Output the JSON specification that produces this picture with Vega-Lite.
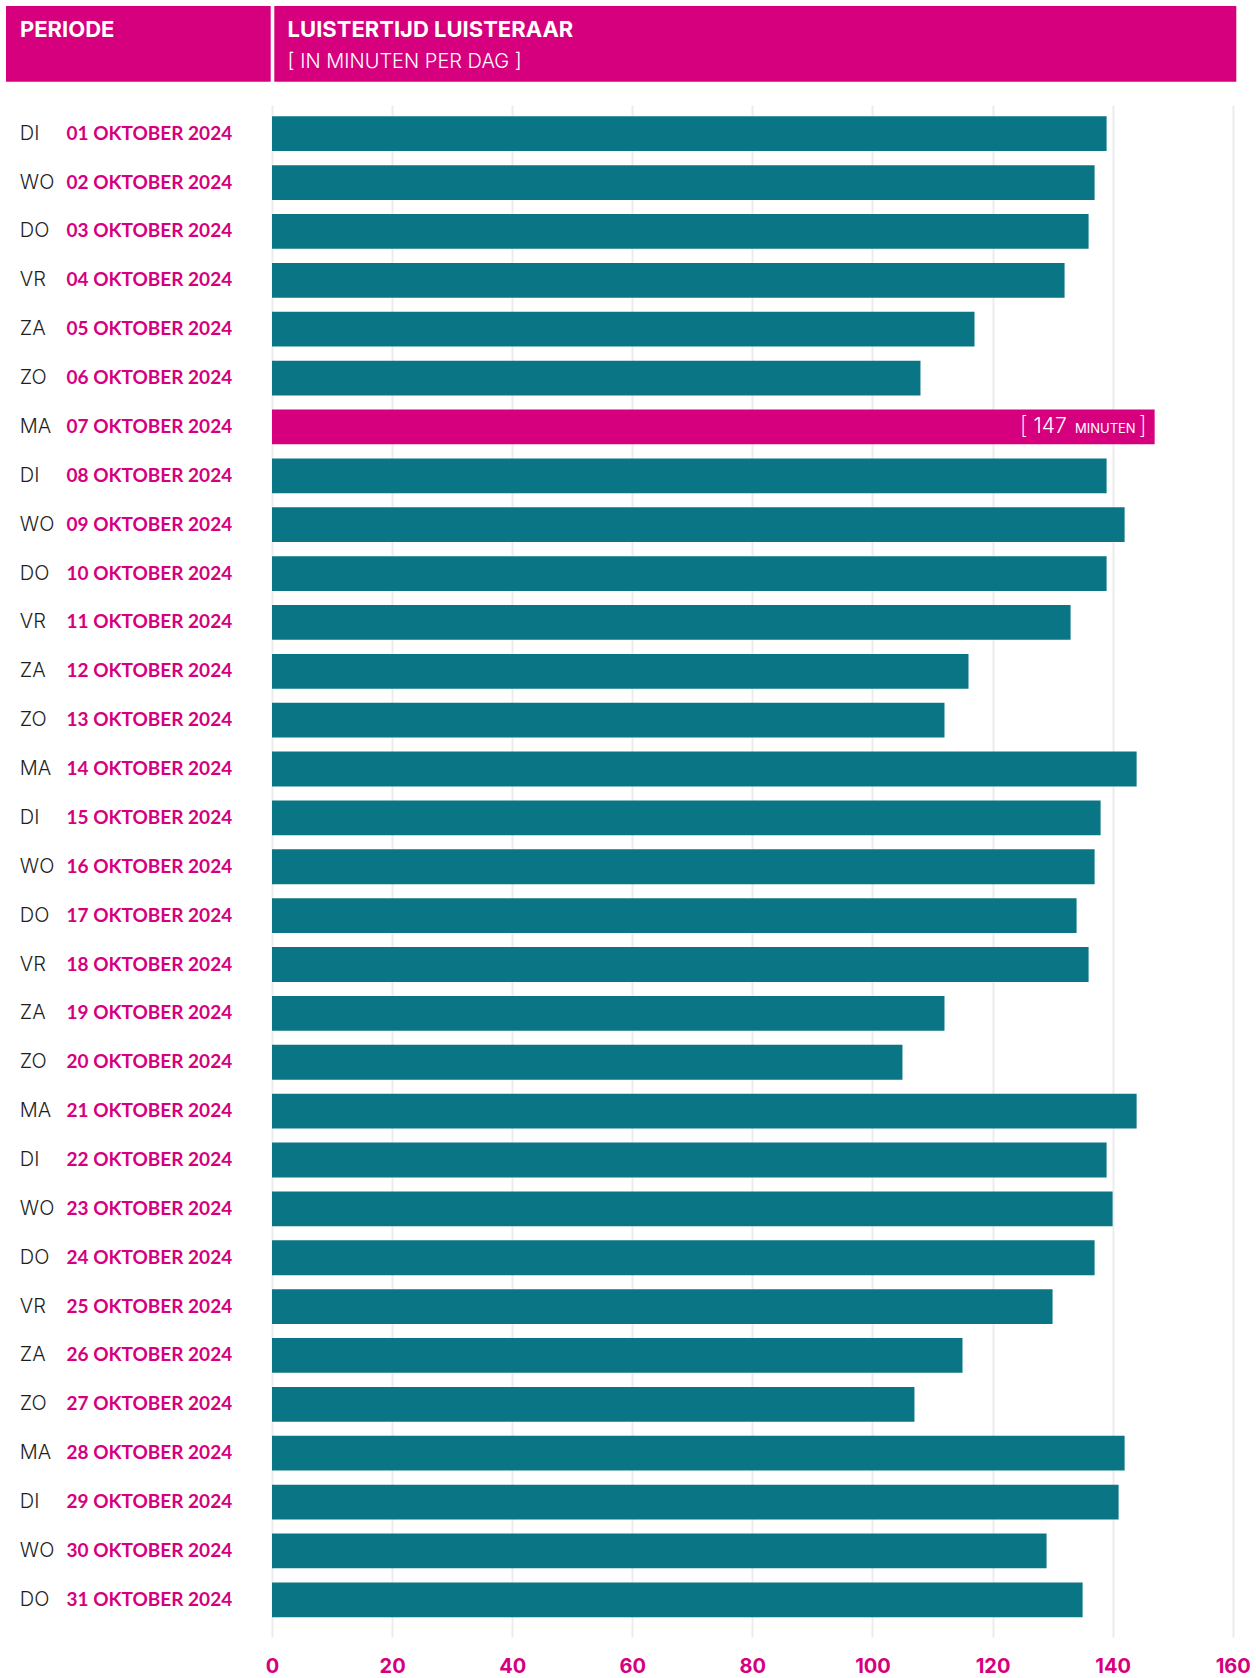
{
  "$schema": "https://vega.github.io/schema/vega-lite/v6.json",
  "background": "#ffffff",
  "padding": {"left": 6, "top": 6, "right": 6, "bottom": 0},
  "config": {"font": "Inter", "view": {"stroke": null}},
  "datasets": {
    "dagen": [
      {"periode": "DI 01 OKTOBER 2024", "minuten": 139},
      {"periode": "WO 02 OKTOBER 2024", "minuten": 137},
      {"periode": "DO 03 OKTOBER 2024", "minuten": 136},
      {"periode": "VR 04 OKTOBER 2024", "minuten": 132},
      {"periode": "ZA 05 OKTOBER 2024", "minuten": 117},
      {"periode": "ZO 06 OKTOBER 2024", "minuten": 108},
      {"periode": "MA 07 OKTOBER 2024", "minuten": 147},
      {"periode": "DI 08 OKTOBER 2024", "minuten": 139},
      {"periode": "WO 09 OKTOBER 2024", "minuten": 142},
      {"periode": "DO 10 OKTOBER 2024", "minuten": 139},
      {"periode": "VR 11 OKTOBER 2024", "minuten": 133},
      {"periode": "ZA 12 OKTOBER 2024", "minuten": 116},
      {"periode": "ZO 13 OKTOBER 2024", "minuten": 112},
      {"periode": "MA 14 OKTOBER 2024", "minuten": 144},
      {"periode": "DI 15 OKTOBER 2024", "minuten": 138},
      {"periode": "WO 16 OKTOBER 2024", "minuten": 137},
      {"periode": "DO 17 OKTOBER 2024", "minuten": 134},
      {"periode": "VR 18 OKTOBER 2024", "minuten": 136},
      {"periode": "ZA 19 OKTOBER 2024", "minuten": 112},
      {"periode": "ZO 20 OKTOBER 2024", "minuten": 105},
      {"periode": "MA 21 OKTOBER 2024", "minuten": 144},
      {"periode": "DI 22 OKTOBER 2024", "minuten": 139},
      {"periode": "WO 23 OKTOBER 2024", "minuten": 140},
      {"periode": "DO 24 OKTOBER 2024", "minuten": 137},
      {"periode": "VR 25 OKTOBER 2024", "minuten": 130},
      {"periode": "ZA 26 OKTOBER 2024", "minuten": 115},
      {"periode": "ZO 27 OKTOBER 2024", "minuten": 107},
      {"periode": "MA 28 OKTOBER 2024", "minuten": 142},
      {"periode": "DI 29 OKTOBER 2024", "minuten": 141},
      {"periode": "WO 30 OKTOBER 2024", "minuten": 129},
      {"periode": "DO 31 OKTOBER 2024", "minuten": 135}
    ],
    "kop": [
      {"kolom1": "PERIODE", "titel": "LUISTERTIJD LUISTERAAR", "sub": "[ IN MINUTEN PER DAG ]"}
    ]
  },
  "vconcat": [
    {
      "hconcat": [
        {
          "width": 264.7,
          "height": 75.7,
          "view": {"fill": "#d6007f", "stroke": null},
          "data": {"name": "kop"},
          "mark": {"type": "text", "align": "left", "baseline": "alphabetic", "x": 14, "y": 31.3, "fontSize": 22, "fontWeight": "bold", "color": "#ffffff"},
          "encoding": {"text": {"field": "kolom1"}}
        },
        {
          "width": 962,
          "height": 75.7,
          "view": {"fill": "#d6007f", "stroke": null},
          "data": {"name": "kop"},
          "layer": [
            {
              "mark": {"type": "text", "align": "left", "baseline": "alphabetic", "x": 13.3, "y": 31.3, "fontSize": 22, "fontWeight": "bold", "color": "#ffffff"},
              "encoding": {"text": {"field": "titel"}}
            },
            {
              "mark": {"type": "text", "align": "left", "baseline": "alphabetic", "x": 13.3, "y": 61.5, "fontSize": 20, "fontWeight": 300, "color": "#ffffff"},
              "encoding": {"text": {"field": "sub"}}
            }
          ]
        }
      ],
      "spacing": 3.3
    },
    {
      "hconcat": [
        {
          "width": 266,
          "height": 1532,
          "data": {"name": "kop"},
          "mark": {"type": "text"},
          "encoding": {"text": {"value": ""}}
        },
        {
          "width": 960.7,
          "height": 1532,
          "data": {"name": "dagen"},
          "layer": [
            {
              "mark": {"type": "bar"},
              "encoding": {
                "y": {
                  "field": "periode", "type": "nominal", "sort": null,
                  "scale": {"paddingInner": 0.288, "paddingOuter": 0.318, "align": 0.354},
                  "axis": {"orient": "left", "domain": false, "ticks": false, "tickSize": 0, "grid": false, "title": null,
                    "labelAlign": "left", "labelPadding": 206, "labelExpr": "substring(datum.label, 3)",
                    "labelColor": "#d6007f", "labelFont": "Lato", "labelFontSize": 19, "labelFontWeight": "bold", "labelLimit": 0}
                },
                "x": {
                  "field": "minuten", "type": "quantitative",
                  "scale": {"domain": [0, 160], "nice": false},
                  "axis": {"values": [0, 20, 40, 60, 80, 100, 120, 140, 160], "grid": true, "gridColor": "#ececec", "gridWidth": 2,
                    "domain": false, "ticks": false, "tickSize": 0, "labelPadding": 19, "labelColor": "#d6007f", "labelFontSize": 20,
                    "labelFontWeight": "bold", "labelFlush": false, "title": null}
                },
                "color": {"condition": {"test": "datum.periode === 'MA 07 OKTOBER 2024'", "value": "#d6007f"}, "value": "#0a7685"}
              }
            },
            {
              "mark": {"type": "text", "align": "right", "baseline": "middle", "dx": -127, "fontSize": 24, "fontWeight": 200, "color": "#ffffff"},
              "encoding": {
                "y": {
                  "field": "periode", "type": "nominal", "sort": null,
                  "axis": {"orient": "left", "domain": false, "ticks": false, "tickSize": 0, "grid": false, "title": null,
                    "labelAlign": "left", "labelPadding": 252.7, "labelExpr": "substring(datum.label, 0, 2)",
                    "labelColor": "#1e1e1e", "labelFontSize": 20, "labelFontWeight": 300, "labelLimit": 0}
                },
                "x": {"field": "minuten", "type": "quantitative"},
                "text": {"condition": {"test": "datum.periode === 'MA 07 OKTOBER 2024'", "value": "["}, "value": ""}
              }
            },
            {
              "mark": {"type": "text", "align": "right", "baseline": "middle", "dx": -88, "fontSize": 21, "fontWeight": 300, "color": "#ffffff"},
              "encoding": {
                "y": {"field": "periode", "type": "nominal", "sort": null, "axis": null},
                "x": {"field": "minuten", "type": "quantitative"},
                "text": {"condition": {"test": "datum.periode === 'MA 07 OKTOBER 2024'", "field": "minuten"}, "value": ""}
              }
            },
            {
              "mark": {"type": "text", "align": "right", "baseline": "middle", "dx": -19, "dy": 2.5, "fontSize": 13, "fontWeight": 400, "color": "#ffffff"},
              "encoding": {
                "y": {"field": "periode", "type": "nominal", "sort": null, "axis": null},
                "x": {"field": "minuten", "type": "quantitative"},
                "text": {"condition": {"test": "datum.periode === 'MA 07 OKTOBER 2024'", "value": "MINUTEN"}, "value": ""}
              }
            },
            {
              "mark": {"type": "text", "align": "right", "baseline": "middle", "dx": -8, "fontSize": 24, "fontWeight": 200, "color": "#ffffff"},
              "encoding": {
                "y": {"field": "periode", "type": "nominal", "sort": null, "axis": null},
                "x": {"field": "minuten", "type": "quantitative"},
                "text": {"condition": {"test": "datum.periode === 'MA 07 OKTOBER 2024'", "value": "]"}, "value": ""}
              }
            }
          ],
          "resolve": {"axis": {"y": "independent"}}
        }
      ],
      "spacing": 0,
      "bounds": "flush"
    }
  ],
  "spacing": 23.3
}
